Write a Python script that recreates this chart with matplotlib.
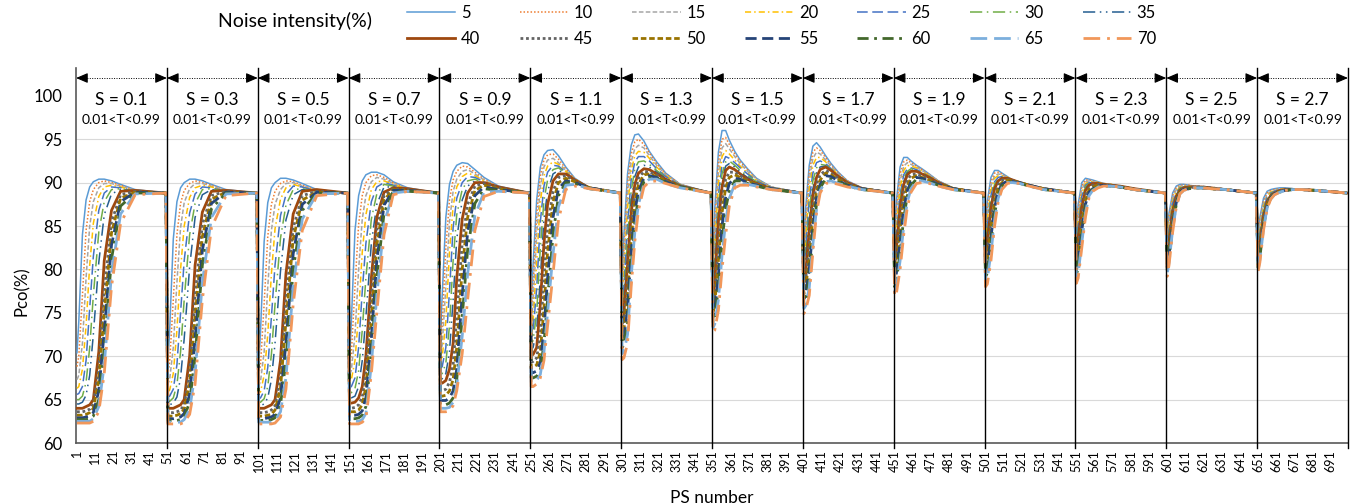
import matplotlib
matplotlib.use('Agg')
import matplotlib.pyplot as plt

plt.rcParams['font.family'] = ['Lato', 'DejaVu Sans']

noise_levels = [5, 10, 15, 20, 25, 30, 35, 40, 45, 50, 55, 60, 65, 70]
s_labels = ['0.1', '0.3', '0.5', '0.7', '0.9', '1.1', '1.3',
            '1.5', '1.7', '1.9', '2.1', '2.3', '2.5', '2.7']
t_label = '0.01<T<0.99'
panel_size = 50
# PS offsets inside each block of 50 where values were read
offsets = [1, 2, 4, 6, 8, 10, 13, 16, 20, 25, 33, 50]

# one row per noise level, one column per offset
p_s01 = [
    [70.4, 74.0, 84.0, 88.0, 89.5, 90.1, 90.4, 90.4, 90.2, 89.8, 89.2, 88.8],
    [68.8, 70.0, 77.0, 84.5, 87.8, 89.2, 90.0, 90.2, 90.0, 89.7, 89.1, 88.8],
    [67.3, 67.8, 71.5, 79.0, 85.0, 87.8, 89.4, 89.9, 89.9, 89.6, 89.1, 88.8],
    [66.3, 66.5, 68.5, 73.5, 80.5, 85.3, 88.4, 89.5, 89.7, 89.5, 89.0, 88.8],
    [65.6, 65.7, 66.5, 69.5, 75.5, 81.5, 86.8, 88.8, 89.5, 89.4, 89.0, 88.8],
    [65.0, 65.0, 65.4, 67.0, 71.0, 77.0, 84.3, 87.8, 89.2, 89.3, 89.0, 88.8],
    [64.5, 64.5, 64.7, 65.5, 67.8, 72.5, 80.8, 86.3, 88.7, 89.2, 89.0, 88.8],
    [64.0, 64.0, 64.0, 64.2, 64.4, 65.0, 70.5, 81.0, 86.8, 89.0, 89.1, 88.8],
    [63.6, 63.6, 63.6, 63.7, 63.9, 64.5, 68.5, 77.5, 85.5, 88.6, 89.0, 88.8],
    [63.2, 63.2, 63.2, 63.3, 63.5, 64.0, 67.2, 75.0, 84.2, 88.2, 88.9, 88.8],
    [62.9, 62.9, 62.9, 63.0, 63.1, 63.5, 66.0, 72.8, 82.8, 87.8, 88.9, 88.8],
    [62.7, 62.7, 62.7, 62.7, 62.8, 63.1, 65.0, 70.8, 81.2, 87.3, 88.8, 88.8],
    [62.5, 62.5, 62.5, 62.5, 62.5, 62.8, 64.2, 69.0, 79.5, 86.4, 88.7, 88.8],
    [62.3, 62.3, 62.3, 62.3, 62.3, 62.5, 63.6, 68.0, 78.0, 85.3, 88.6, 88.8],
]
p_s03 = [
    [69.2, 73.0, 83.5, 87.8, 89.4, 90.0, 90.4, 90.4, 90.2, 89.8, 89.2, 88.8],
    [68.0, 69.3, 76.5, 84.0, 87.6, 89.1, 89.9, 90.2, 90.0, 89.7, 89.1, 88.8],
    [66.8, 67.3, 71.0, 78.5, 84.8, 87.7, 89.3, 89.9, 89.9, 89.6, 89.1, 88.8],
    [65.9, 66.1, 68.0, 73.0, 80.0, 85.0, 88.3, 89.4, 89.7, 89.5, 89.0, 88.8],
    [65.3, 65.4, 66.2, 69.0, 75.0, 81.0, 86.5, 88.7, 89.5, 89.4, 89.0, 88.8],
    [64.8, 64.8, 65.2, 66.7, 70.5, 76.5, 84.0, 87.6, 89.2, 89.3, 89.0, 88.8],
    [64.4, 64.4, 64.6, 65.3, 67.5, 72.0, 80.3, 86.0, 88.6, 89.2, 89.0, 88.8],
    [64.0, 64.0, 64.0, 64.2, 64.4, 65.0, 70.0, 80.5, 86.6, 89.0, 89.1, 88.8],
    [63.5, 63.5, 63.5, 63.6, 63.8, 64.4, 68.0, 77.0, 85.2, 88.5, 89.0, 88.8],
    [63.1, 63.1, 63.1, 63.2, 63.4, 63.9, 66.8, 74.5, 83.8, 88.1, 88.9, 88.8],
    [62.8, 62.8, 62.8, 62.9, 63.0, 63.4, 65.6, 72.0, 82.2, 87.6, 88.9, 88.8],
    [62.6, 62.6, 62.6, 62.6, 62.7, 63.0, 64.7, 70.0, 80.5, 87.0, 88.8, 88.8],
    [62.4, 62.4, 62.4, 62.4, 62.4, 62.7, 63.9, 68.0, 78.5, 86.0, 88.7, 88.8],
    [62.2, 62.2, 62.2, 62.2, 62.2, 62.4, 63.3, 66.8, 76.5, 84.8, 88.5, 88.8],
]
p_s05 = [
    [69.0, 72.8, 83.2, 87.7, 89.4, 90.0, 90.5, 90.5, 90.3, 89.9, 89.2, 88.8],
    [67.8, 69.0, 76.0, 83.8, 87.5, 89.0, 89.9, 90.2, 90.1, 89.7, 89.1, 88.8],
    [66.6, 67.1, 70.5, 78.0, 84.5, 87.5, 89.2, 89.9, 90.0, 89.6, 89.1, 88.8],
    [65.7, 65.9, 67.8, 72.5, 79.5, 84.7, 88.1, 89.4, 89.8, 89.5, 89.0, 88.8],
    [65.1, 65.2, 66.0, 68.7, 74.5, 80.5, 86.2, 88.6, 89.6, 89.5, 89.0, 88.8],
    [64.7, 64.7, 65.1, 66.5, 70.2, 76.0, 83.6, 87.4, 89.2, 89.3, 89.0, 88.8],
    [64.3, 64.3, 64.5, 65.2, 67.3, 71.5, 79.8, 85.7, 88.6, 89.2, 89.0, 88.8],
    [64.0, 64.0, 64.0, 64.2, 64.4, 65.0, 69.5, 79.5, 86.4, 89.0, 89.2, 88.8],
    [63.5, 63.5, 63.5, 63.6, 63.8, 64.3, 67.5, 76.5, 84.8, 88.5, 89.0, 88.8],
    [63.1, 63.1, 63.1, 63.2, 63.3, 63.8, 66.3, 74.0, 83.5, 88.0, 88.9, 88.8],
    [62.8, 62.8, 62.8, 62.9, 63.0, 63.3, 65.2, 71.5, 81.8, 87.5, 88.9, 88.8],
    [62.6, 62.6, 62.6, 62.6, 62.7, 62.9, 64.4, 69.5, 80.0, 86.8, 88.8, 88.8],
    [62.4, 62.4, 62.4, 62.4, 62.4, 62.6, 63.6, 67.5, 78.0, 85.8, 88.7, 88.8],
    [62.2, 62.2, 62.2, 62.2, 62.2, 62.3, 63.0, 66.2, 76.0, 84.5, 88.5, 88.8],
]
p_s07 = [
    [69.5, 74.0, 84.5, 88.5, 90.2, 90.9, 91.2, 91.2, 90.9, 90.1, 89.4, 88.8],
    [68.6, 70.3, 78.0, 85.2, 88.5, 90.0, 90.8, 90.9, 90.6, 90.0, 89.3, 88.8],
    [67.8, 68.4, 72.5, 80.0, 85.8, 88.5, 90.1, 90.6, 90.4, 89.9, 89.3, 88.8],
    [67.1, 67.3, 69.5, 75.0, 82.0, 86.3, 89.2, 90.1, 90.2, 89.8, 89.2, 88.8],
    [66.4, 66.5, 67.5, 71.0, 77.5, 83.0, 87.8, 89.5, 90.0, 89.7, 89.2, 88.8],
    [65.8, 65.8, 66.3, 68.3, 73.0, 79.0, 85.8, 88.7, 89.8, 89.6, 89.2, 88.8],
    [65.2, 65.2, 65.4, 66.5, 69.5, 74.5, 83.0, 87.5, 89.5, 89.5, 89.2, 88.8],
    [64.6, 64.6, 64.7, 65.2, 66.5, 70.0, 79.0, 86.0, 88.9, 89.4, 89.3, 88.8],
    [64.0, 64.0, 64.1, 64.4, 65.3, 68.0, 76.5, 84.5, 88.5, 89.3, 89.2, 88.8],
    [63.6, 63.6, 63.6, 63.8, 64.4, 66.5, 74.0, 82.8, 88.0, 89.2, 89.1, 88.8],
    [63.2, 63.2, 63.2, 63.3, 63.7, 65.2, 72.0, 81.0, 87.4, 89.1, 89.1, 88.8],
    [62.8, 62.8, 62.8, 62.9, 63.2, 64.2, 70.3, 79.0, 86.5, 89.0, 89.0, 88.8],
    [62.5, 62.5, 62.5, 62.5, 62.7, 63.4, 69.0, 77.0, 85.3, 88.8, 89.0, 88.8],
    [62.2, 62.2, 62.2, 62.2, 62.4, 62.8, 68.0, 75.0, 84.0, 88.6, 89.0, 88.8],
]
p_s09 = [
    [72.5, 77.0, 86.0, 89.8, 91.3, 92.0, 92.3, 92.2, 91.5, 90.6, 89.6, 88.8],
    [71.3, 73.5, 82.5, 88.0, 90.3, 91.3, 91.9, 91.8, 91.2, 90.4, 89.5, 88.8],
    [70.3, 71.3, 78.0, 85.5, 89.0, 90.4, 91.3, 91.5, 91.0, 90.3, 89.5, 88.8],
    [69.4, 69.9, 74.0, 82.0, 87.3, 89.5, 90.7, 91.1, 90.8, 90.2, 89.4, 88.8],
    [68.6, 68.8, 71.0, 77.5, 84.8, 88.2, 90.0, 90.7, 90.6, 90.1, 89.4, 88.8],
    [67.9, 68.0, 69.2, 73.5, 81.0, 86.3, 89.2, 90.2, 90.4, 90.0, 89.4, 88.8],
    [67.4, 67.4, 68.0, 70.5, 76.5, 83.5, 88.0, 89.6, 90.2, 89.9, 89.3, 88.8],
    [66.9, 66.9, 67.2, 68.5, 71.5, 79.0, 85.8, 88.8, 90.0, 90.0, 89.5, 88.8],
    [66.0, 66.0, 66.2, 67.0, 69.0, 74.5, 83.0, 87.5, 89.6, 89.9, 89.4, 88.8],
    [65.4, 65.4, 65.5, 66.0, 67.3, 71.0, 80.0, 86.0, 89.1, 89.7, 89.3, 88.8],
    [64.9, 64.9, 64.9, 65.2, 66.0, 68.5, 77.0, 84.3, 88.5, 89.5, 89.2, 88.8],
    [64.4, 64.4, 64.4, 64.6, 65.2, 67.3, 74.5, 82.3, 87.6, 89.3, 89.1, 88.8],
    [64.0, 64.0, 64.0, 64.1, 64.7, 66.6, 72.3, 79.5, 86.2, 88.9, 89.0, 88.8],
    [63.6, 63.6, 63.6, 63.7, 64.3, 66.0, 70.3, 76.5, 84.5, 88.4, 89.0, 88.8],
]
p_s11 = [
    [75.5, 80.5, 88.0, 91.8, 93.2, 93.7, 93.8, 93.1, 91.8, 90.5, 89.4, 88.8],
    [74.6, 78.0, 86.3, 90.8, 92.6, 93.2, 93.3, 92.7, 91.6, 90.4, 89.4, 88.8],
    [73.8, 76.0, 84.0, 89.5, 91.8, 92.6, 92.8, 92.3, 91.4, 90.4, 89.4, 88.8],
    [72.9, 74.0, 81.0, 87.8, 90.8, 91.9, 92.4, 92.1, 91.3, 90.4, 89.4, 88.8],
    [72.2, 72.8, 77.8, 85.5, 89.6, 91.2, 92.0, 91.9, 91.2, 90.3, 89.4, 88.8],
    [71.5, 71.8, 75.0, 82.5, 88.0, 90.3, 91.5, 91.7, 91.1, 90.3, 89.4, 88.8],
    [70.8, 71.0, 73.0, 79.0, 85.8, 89.0, 91.0, 91.4, 91.0, 90.3, 89.4, 88.8],
    [70.1, 70.2, 71.0, 76.0, 83.0, 87.5, 90.2, 91.0, 91.0, 90.3, 89.4, 88.8],
    [69.3, 69.4, 69.8, 72.5, 79.0, 84.8, 89.0, 90.6, 90.8, 90.2, 89.4, 88.8],
    [68.7, 68.7, 69.0, 70.5, 75.5, 82.0, 87.8, 90.0, 90.5, 90.1, 89.4, 88.8],
    [68.1, 68.1, 68.3, 69.3, 73.0, 79.0, 86.0, 89.3, 90.2, 90.0, 89.4, 88.8],
    [67.5, 67.5, 67.7, 68.4, 71.5, 76.5, 84.0, 88.5, 90.0, 89.9, 89.3, 88.8],
    [67.0, 67.0, 67.2, 67.9, 70.5, 75.0, 81.8, 87.2, 89.7, 89.8, 89.3, 88.8],
    [66.5, 66.5, 66.8, 67.5, 69.5, 73.5, 79.5, 85.7, 89.2, 89.6, 89.3, 88.8],
]
p_s13 = [
    [78.5, 84.0, 91.0, 94.3, 95.5, 95.6, 94.8, 93.6, 92.4, 91.1, 89.8, 88.8],
    [77.8, 82.5, 89.8, 93.3, 94.7, 95.0, 94.4, 93.4, 92.2, 91.0, 89.8, 88.8],
    [77.1, 81.0, 88.5, 92.4, 93.9, 94.3, 94.0, 93.1, 92.0, 90.9, 89.8, 88.8],
    [76.4, 79.5, 87.0, 91.4, 93.1, 93.6, 93.5, 92.8, 91.8, 90.8, 89.7, 88.8],
    [75.7, 78.0, 85.3, 90.3, 92.4, 93.0, 93.0, 92.5, 91.6, 90.7, 89.7, 88.8],
    [75.0, 76.8, 83.5, 89.0, 91.6, 92.4, 92.5, 92.1, 91.4, 90.6, 89.7, 88.8],
    [74.4, 75.8, 82.0, 87.8, 90.7, 91.8, 92.0, 91.8, 91.2, 90.5, 89.6, 88.8],
    [73.8, 75.0, 80.5, 86.5, 89.8, 91.1, 91.6, 91.5, 91.0, 90.4, 89.6, 88.8],
    [73.0, 74.0, 78.5, 85.0, 88.8, 90.5, 91.3, 91.2, 90.9, 90.3, 89.6, 88.8],
    [72.3, 73.0, 76.8, 83.5, 87.8, 89.8, 90.9, 91.0, 90.7, 90.2, 89.5, 88.8],
    [71.6, 72.1, 75.3, 82.0, 86.7, 89.0, 90.5, 90.8, 90.6, 90.1, 89.5, 88.8],
    [71.0, 71.3, 73.8, 80.5, 85.5, 88.3, 90.1, 90.6, 90.5, 90.0, 89.5, 88.8],
    [70.3, 70.5, 72.5, 79.2, 84.3, 87.5, 89.8, 90.4, 90.4, 89.9, 89.4, 88.8],
    [69.6, 69.8, 71.5, 78.0, 83.2, 86.8, 89.5, 90.1, 90.2, 89.9, 89.4, 88.8],
]
p_s15 = [
    [80.5, 87.0, 93.5, 96.0, 96.0, 94.9, 93.6, 92.6, 91.6, 90.5, 89.5, 88.8],
    [79.9, 85.5, 92.3, 95.0, 95.2, 94.4, 93.3, 92.4, 91.5, 90.4, 89.5, 88.8],
    [79.3, 84.0, 91.0, 94.0, 94.5, 93.9, 93.0, 92.2, 91.3, 90.4, 89.5, 88.8],
    [78.6, 82.5, 89.8, 93.0, 93.7, 93.3, 92.6, 91.9, 91.1, 90.3, 89.4, 88.8],
    [78.0, 81.3, 88.5, 92.0, 93.0, 92.8, 92.3, 91.7, 91.0, 90.2, 89.4, 88.8],
    [77.4, 80.2, 87.3, 91.0, 92.4, 92.5, 92.0, 91.4, 90.8, 90.1, 89.4, 88.8],
    [76.8, 79.3, 86.3, 90.2, 91.9, 92.2, 91.8, 91.2, 90.6, 90.0, 89.4, 88.8],
    [76.3, 78.5, 85.5, 89.5, 91.4, 91.8, 91.5, 91.0, 90.4, 89.9, 89.3, 88.8],
    [75.6, 77.0, 83.0, 88.0, 90.4, 91.2, 91.2, 90.8, 90.3, 89.8, 89.3, 88.8],
    [75.0, 76.0, 81.0, 86.5, 89.4, 90.6, 90.9, 90.6, 90.2, 89.8, 89.3, 88.8],
    [74.5, 75.2, 79.3, 85.0, 88.3, 89.9, 90.5, 90.4, 90.0, 89.7, 89.3, 88.8],
    [73.9, 74.4, 77.8, 83.3, 87.0, 89.0, 90.2, 90.2, 89.9, 89.6, 89.2, 88.8],
    [73.3, 73.7, 76.5, 81.6, 85.5, 88.2, 89.8, 90.0, 89.8, 89.6, 89.2, 88.8],
    [72.8, 73.0, 75.3, 80.0, 84.0, 87.3, 89.4, 89.7, 89.7, 89.5, 89.2, 88.8],
]
p_s17 = [
    [82.0, 87.0, 92.0, 94.2, 94.6, 94.1, 93.1, 92.2, 91.2, 90.2, 89.4, 88.8],
    [81.5, 85.8, 91.2, 93.5, 94.0, 93.7, 92.9, 92.0, 91.1, 90.2, 89.4, 88.8],
    [81.0, 84.6, 90.3, 92.8, 93.5, 93.3, 92.6, 91.9, 91.0, 90.1, 89.4, 88.8],
    [80.4, 83.4, 89.2, 92.0, 92.9, 92.9, 92.4, 91.7, 90.9, 90.1, 89.4, 88.8],
    [79.9, 82.3, 88.0, 91.1, 92.3, 92.5, 92.2, 91.6, 90.8, 90.1, 89.4, 88.8],
    [79.4, 81.3, 86.8, 90.2, 91.7, 92.1, 92.0, 91.5, 90.8, 90.0, 89.3, 88.8],
    [78.9, 80.4, 85.6, 89.3, 91.1, 91.8, 91.9, 91.4, 90.7, 90.0, 89.3, 88.8],
    [78.4, 79.5, 84.5, 88.5, 90.6, 91.5, 91.8, 91.4, 90.7, 90.0, 89.3, 88.8],
    [77.8, 78.6, 82.8, 87.3, 89.8, 90.9, 91.4, 91.1, 90.5, 89.9, 89.3, 88.8],
    [77.2, 77.8, 81.3, 86.0, 89.0, 90.3, 91.1, 90.9, 90.4, 89.8, 89.3, 88.8],
    [76.6, 77.0, 80.0, 84.8, 88.2, 89.8, 90.8, 90.7, 90.2, 89.7, 89.3, 88.8],
    [76.0, 76.3, 78.9, 83.8, 87.5, 89.4, 90.4, 90.4, 90.1, 89.6, 89.2, 88.8],
    [75.5, 75.8, 77.9, 82.9, 87.0, 89.1, 90.1, 90.2, 89.9, 89.6, 89.2, 88.8],
    [74.9, 75.3, 77.0, 82.0, 86.5, 88.8, 89.9, 90.0, 89.8, 89.5, 89.2, 88.8],
]
p_s19 = [
    [83.5, 88.0, 91.8, 92.9, 92.9, 92.5, 92.0, 91.6, 91.0, 90.2, 89.4, 88.8],
    [83.0, 87.0, 91.0, 92.4, 92.6, 92.3, 91.9, 91.5, 90.9, 90.2, 89.4, 88.8],
    [82.5, 86.0, 90.2, 91.9, 92.3, 92.1, 91.8, 91.4, 90.9, 90.2, 89.4, 88.8],
    [82.0, 85.0, 89.4, 91.4, 92.0, 91.9, 91.7, 91.3, 90.8, 90.1, 89.4, 88.8],
    [81.6, 84.2, 88.6, 90.9, 91.6, 91.7, 91.5, 91.2, 90.7, 90.1, 89.4, 88.8],
    [81.2, 83.5, 88.0, 90.5, 91.3, 91.6, 91.4, 91.1, 90.7, 90.1, 89.4, 88.8],
    [80.8, 83.0, 87.5, 90.1, 91.1, 91.4, 91.3, 91.0, 90.6, 90.0, 89.3, 88.8],
    [80.4, 82.5, 87.0, 89.8, 90.9, 91.3, 91.3, 91.0, 90.6, 90.0, 89.3, 88.8],
    [79.8, 81.5, 85.8, 88.9, 90.3, 90.9, 91.0, 90.8, 90.4, 89.9, 89.3, 88.8],
    [79.2, 80.5, 84.5, 88.0, 89.7, 90.5, 90.8, 90.6, 90.3, 89.8, 89.3, 88.8],
    [78.6, 79.6, 83.3, 87.0, 89.1, 90.1, 90.6, 90.5, 90.2, 89.8, 89.3, 88.8],
    [78.0, 78.7, 82.0, 85.9, 88.5, 89.7, 90.4, 90.3, 90.1, 89.7, 89.2, 88.8],
    [77.4, 78.0, 81.0, 85.0, 87.8, 89.3, 90.2, 90.2, 90.0, 89.6, 89.2, 88.8],
    [76.9, 77.3, 80.0, 84.0, 87.2, 88.9, 89.9, 90.0, 89.9, 89.6, 89.2, 88.8],
]
p_s21 = [
    [84.5, 87.8, 90.6, 91.4, 91.4, 91.1, 90.7, 90.3, 90.0, 89.7, 89.3, 88.8],
    [84.0, 87.1, 90.1, 91.1, 91.2, 91.0, 90.6, 90.3, 90.0, 89.7, 89.3, 88.8],
    [83.5, 86.4, 89.6, 90.8, 91.0, 90.9, 90.6, 90.3, 90.0, 89.7, 89.3, 88.8],
    [83.0, 85.7, 89.1, 90.5, 90.8, 90.8, 90.6, 90.3, 90.0, 89.7, 89.3, 88.8],
    [82.5, 85.0, 88.5, 90.1, 90.6, 90.7, 90.5, 90.3, 90.0, 89.7, 89.3, 88.8],
    [82.1, 84.3, 88.0, 89.8, 90.4, 90.6, 90.5, 90.3, 90.0, 89.7, 89.3, 88.8],
    [81.7, 83.6, 87.5, 89.5, 90.3, 90.6, 90.5, 90.3, 90.0, 89.7, 89.3, 88.8],
    [81.3, 83.0, 87.0, 89.3, 90.2, 90.5, 90.5, 90.3, 90.0, 89.7, 89.3, 88.8],
    [80.8, 82.0, 85.8, 88.5, 89.8, 90.3, 90.4, 90.2, 90.0, 89.7, 89.3, 88.8],
    [80.2, 81.1, 84.8, 87.8, 89.4, 90.0, 90.3, 90.2, 90.0, 89.7, 89.3, 88.8],
    [79.7, 80.3, 83.7, 87.1, 89.0, 89.8, 90.2, 90.1, 90.0, 89.7, 89.3, 88.8],
    [79.1, 79.6, 82.8, 86.4, 88.6, 89.6, 90.1, 90.1, 89.9, 89.6, 89.2, 88.8],
    [78.5, 78.9, 81.9, 85.7, 88.2, 89.4, 90.0, 90.0, 89.9, 89.6, 89.2, 88.8],
    [78.0, 78.3, 81.0, 85.0, 87.8, 89.2, 89.9, 90.0, 89.9, 89.6, 89.2, 88.8],
]
p_s23 = [
    [84.5, 87.5, 90.0, 90.5, 90.4, 90.3, 90.1, 89.9, 89.8, 89.6, 89.3, 88.8],
    [84.0, 86.9, 89.6, 90.3, 90.3, 90.2, 90.0, 89.9, 89.8, 89.6, 89.3, 88.8],
    [83.5, 86.3, 89.2, 90.1, 90.2, 90.1, 90.0, 89.9, 89.8, 89.6, 89.3, 88.8],
    [83.0, 85.7, 88.8, 89.9, 90.1, 90.1, 90.0, 89.9, 89.8, 89.6, 89.3, 88.8],
    [82.6, 85.1, 88.4, 89.7, 90.0, 90.0, 89.9, 89.8, 89.7, 89.6, 89.3, 88.8],
    [82.2, 84.5, 88.0, 89.5, 89.9, 89.9, 89.9, 89.8, 89.7, 89.6, 89.3, 88.8],
    [81.8, 83.9, 87.6, 89.3, 89.8, 89.9, 89.9, 89.8, 89.7, 89.6, 89.3, 88.8],
    [81.4, 83.3, 87.2, 89.1, 89.7, 89.9, 89.9, 89.8, 89.7, 89.6, 89.3, 88.8],
    [80.9, 82.4, 86.2, 88.6, 89.4, 89.7, 89.8, 89.7, 89.7, 89.5, 89.2, 88.8],
    [80.4, 81.6, 85.3, 88.0, 89.2, 89.5, 89.7, 89.7, 89.6, 89.5, 89.2, 88.8],
    [79.9, 80.8, 84.5, 87.5, 88.9, 89.3, 89.6, 89.7, 89.6, 89.5, 89.2, 88.8],
    [79.4, 80.1, 83.8, 87.0, 88.7, 89.2, 89.5, 89.6, 89.6, 89.5, 89.2, 88.8],
    [78.9, 79.5, 83.1, 86.5, 88.5, 89.1, 89.5, 89.6, 89.6, 89.5, 89.2, 88.8],
    [78.4, 79.0, 82.5, 86.0, 88.3, 89.0, 89.4, 89.6, 89.6, 89.5, 89.2, 88.8],
]
p_s25 = [
    [84.0, 86.5, 88.8, 89.6, 89.8, 89.8, 89.7, 89.6, 89.5, 89.4, 89.2, 88.8],
    [83.6, 86.1, 88.5, 89.4, 89.7, 89.7, 89.7, 89.6, 89.5, 89.4, 89.2, 88.8],
    [83.2, 85.6, 88.2, 89.2, 89.6, 89.7, 89.6, 89.6, 89.5, 89.4, 89.2, 88.8],
    [82.8, 85.1, 87.9, 89.0, 89.5, 89.6, 89.6, 89.5, 89.5, 89.4, 89.2, 88.8],
    [82.4, 84.6, 87.6, 88.8, 89.4, 89.5, 89.6, 89.5, 89.5, 89.4, 89.2, 88.8],
    [82.0, 84.1, 87.3, 88.6, 89.3, 89.5, 89.5, 89.5, 89.5, 89.4, 89.2, 88.8],
    [81.6, 83.6, 87.0, 88.5, 89.2, 89.4, 89.5, 89.5, 89.5, 89.4, 89.2, 88.8],
    [81.3, 83.2, 86.7, 88.4, 89.1, 89.4, 89.5, 89.5, 89.5, 89.4, 89.2, 88.8],
    [80.9, 82.6, 86.2, 88.1, 89.0, 89.3, 89.4, 89.5, 89.5, 89.4, 89.2, 88.8],
    [80.6, 82.1, 85.7, 87.9, 88.9, 89.2, 89.4, 89.4, 89.4, 89.3, 89.2, 88.8],
    [80.3, 81.6, 85.3, 87.7, 88.9, 89.2, 89.3, 89.4, 89.4, 89.3, 89.2, 88.8],
    [79.9, 81.2, 84.9, 87.5, 88.8, 89.1, 89.3, 89.4, 89.4, 89.3, 89.2, 88.8],
    [79.5, 80.8, 84.6, 87.3, 88.7, 89.1, 89.3, 89.4, 89.4, 89.3, 89.2, 88.8],
    [79.2, 80.5, 84.3, 87.2, 88.7, 89.1, 89.3, 89.4, 89.4, 89.3, 89.2, 88.8],
]
p_s27 = [
    [83.5, 86.0, 88.2, 89.0, 89.2, 89.3, 89.4, 89.4, 89.3, 89.2, 89.1, 88.8],
    [83.1, 85.6, 87.9, 88.8, 89.1, 89.2, 89.3, 89.3, 89.3, 89.2, 89.1, 88.8],
    [82.7, 85.1, 87.6, 88.6, 89.0, 89.1, 89.3, 89.3, 89.3, 89.2, 89.1, 88.8],
    [82.4, 84.7, 87.3, 88.4, 88.9, 89.1, 89.2, 89.3, 89.3, 89.2, 89.1, 88.8],
    [82.1, 84.2, 87.0, 88.3, 88.8, 89.0, 89.2, 89.3, 89.3, 89.2, 89.1, 88.8],
    [81.8, 83.8, 86.7, 88.1, 88.7, 88.9, 89.1, 89.2, 89.3, 89.2, 89.1, 88.8],
    [81.5, 83.4, 86.4, 87.9, 88.6, 88.9, 89.1, 89.2, 89.2, 89.2, 89.1, 88.8],
    [81.2, 83.0, 86.1, 87.8, 88.5, 88.8, 89.1, 89.2, 89.2, 89.2, 89.1, 88.8],
    [80.9, 82.5, 85.7, 87.6, 88.4, 88.8, 89.0, 89.2, 89.2, 89.2, 89.1, 88.8],
    [80.6, 82.1, 85.4, 87.5, 88.3, 88.7, 89.0, 89.1, 89.2, 89.2, 89.1, 88.8],
    [80.4, 81.8, 85.1, 87.3, 88.3, 88.7, 89.0, 89.1, 89.2, 89.2, 89.1, 88.8],
    [80.2, 81.4, 84.9, 87.2, 88.2, 88.7, 88.9, 89.1, 89.2, 89.2, 89.1, 88.8],
    [79.9, 81.1, 84.7, 87.1, 88.1, 88.6, 88.9, 89.1, 89.2, 89.2, 89.1, 88.8],
    [79.7, 80.8, 84.5, 87.0, 88.1, 88.6, 88.9, 89.1, 89.2, 89.2, 89.1, 88.8],
]

panels = [p_s01, p_s03, p_s05, p_s07, p_s09, p_s11, p_s13,
          p_s15, p_s17, p_s19, p_s21, p_s23, p_s25, p_s27]

# Excel-like series styling
colors = ['#5B9BD5', '#ED7D31', '#A5A5A5', '#FFC000', '#4472C4', '#70AD47', '#255E91',
          '#9E480E', '#636363', '#997300', '#264478', '#43682B', '#7CAFDD', '#F1975A']
styles = ['-', (0, (1, 1.3)), (0, (3, 1.5)), (0, (4, 2, 1, 2)), (0, (7, 3)),
          (0, (8, 3, 1, 3)), (0, (8, 3, 1, 3, 1, 3)),
          '-', (0, (1, 1)), (0, (2, 1)), (0, (4, 2)), (0, (4, 2, 1, 2)),
          (0, (6, 2.5)), (0, (6, 2.5, 1, 2.5))]
widths = [1.1] * 7 + [2.0] * 7

fig = plt.figure(figsize=(13.56, 5.04), dpi=100)
ax = fig.add_axes([0.0561, 0.121, 0.938, 0.744])

handles = []
for i, lvl in enumerate(noise_levels):
    xs, ys = [], []
    for k, tab in enumerate(panels):
        xs += [k * panel_size + o for o in offsets]
        ys += tab[i]
    h, = ax.plot(xs, ys, color=colors[i], lw=widths[i], ls=styles[i],
                 label=str(lvl), zorder=3 + i * 0.01)
    handles.append(h)

n_total = panel_size * len(panels)
ax.set_xlim(0.5, n_total + 0.5)
ax.set_ylim(60, 103.2)
ax.set_yticks(range(60, 101, 5))
ax.set_xticks(range(1, n_total + 1, 10))
ax.tick_params(axis='x', length=0, labelsize=9, rotation=90, pad=5)
ax.tick_params(axis='y', length=0, labelsize=12, pad=10)
ax.yaxis.grid(True, color='#D9D9D9', lw=0.8, zorder=0)
ax.set_axisbelow(True)
for side in ['top', 'right']:
    ax.spines[side].set_visible(False)
for side in ['left', 'bottom']:
    ax.spines[side].set_color('#595959')
    ax.spines[side].set_linewidth(1.2)

# white strip behind panel captions (hides 100 gridline like the text boxes)
ax.axhspan(96.4, 101.5, color='white', zorder=1)

y_arrow = 102.05
for k, s in enumerate(s_labels):
    x0 = k * panel_size + 0.5
    x1 = x0 + panel_size
    xc = (x0 + x1) / 2
    ax.plot([x1, x1], [59.4, 103.2], color='black', lw=1.0, zorder=5, clip_on=False)
    ax.plot([x0 + 3, x1 - 3], [y_arrow, y_arrow], color='black', lw=0.7, ls=(0, (1, 1.5)),
            zorder=5, clip_on=False)
    for tip, tail in [(x0, x0 + 4), (x1, x1 - 4)]:
        ax.annotate('', xy=(tip, y_arrow), xytext=(tail, y_arrow),
                    arrowprops=dict(arrowstyle='-|>,head_length=0.7,head_width=0.3',
                                    color='black', lw=0.8, shrinkA=0, shrinkB=0),
                    annotation_clip=False, zorder=6)
    ax.text(xc, 99.5, 'S = ' + s, ha='center', va='center', fontsize=12.5, zorder=6)
    ax.text(xc, 97.2, t_label, ha='center', va='center', fontsize=10, zorder=6)

ax.set_ylabel('Pco(%)', fontsize=12)
ax.yaxis.set_label_coords(-0.036, 0.405)
ax.set_xlabel('PS number', fontsize=12.5, labelpad=13)

order = []
for c in range(7):
    order += [c, c + 7]
fig.legend([handles[j] for j in order], [str(noise_levels[j]) for j in order],
           ncol=7, loc='upper left', bbox_to_anchor=(407 / 1356, 1 - 5 / 504),
           frameon=False, fontsize=12, handlelength=2.9, handletextpad=0.35,
           columnspacing=2.35, labelspacing=0.62, borderpad=0, borderaxespad=0)
fig.text(218 / 1356, 1 - 21 / 504, 'Noise intensity(%)', ha='left', va='center', fontsize=14)

fig.savefig('out.png', dpi=100)
